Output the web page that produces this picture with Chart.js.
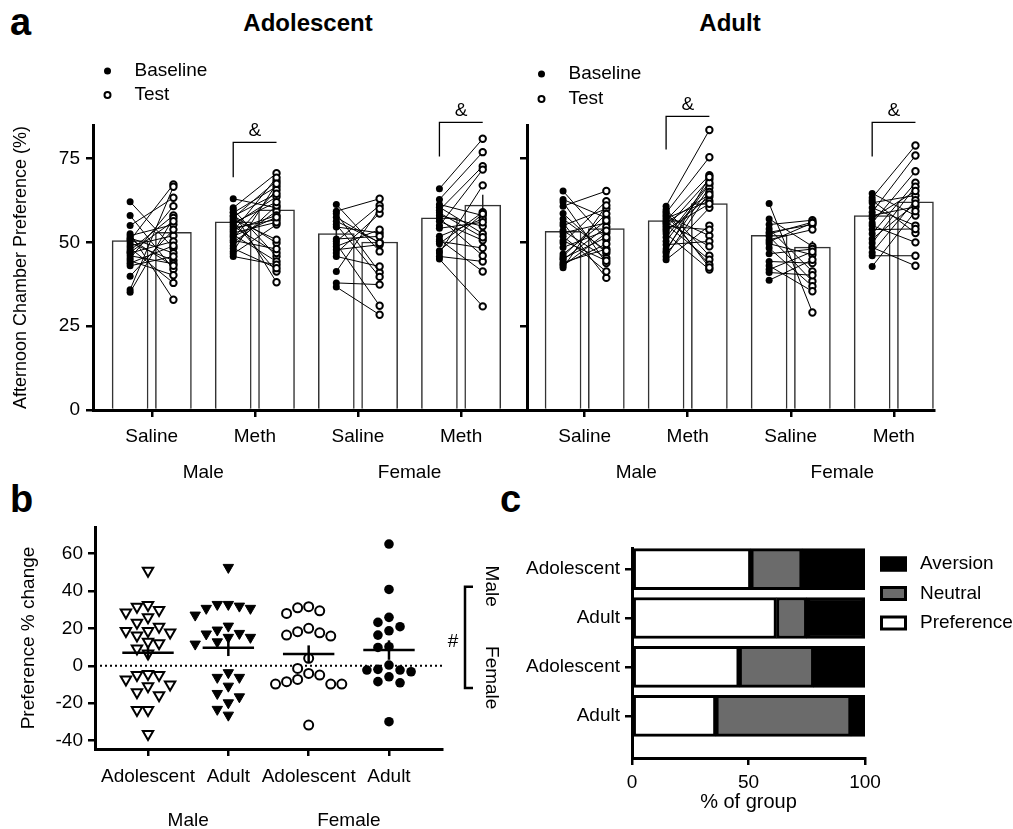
<!DOCTYPE html>
<html>
<head>
<meta charset="utf-8">
<script src="https://cdn.jsdelivr.net/npm/chart.js@4.4.1/dist/chart.umd.min.js"></script>
<style>
  body { margin: 0; background: #fff; }
  #fig { position: relative; width: 1013px; height: 829px; overflow: hidden;
         font-family: "Liberation Sans", Arial, sans-serif; color: #000; }
  canvas { position: absolute; }
  .txt { position: absolute; white-space: nowrap; line-height: 1; font-weight: bold; }
</style>
</head>
<body>
<div id="fig">
  <div class="txt" style="left:10px;top:3px;font-size:38px">a</div>
  <div class="txt" style="left:308px;top:11px;font-size:24px;transform:translateX(-50%)">Adolescent</div>
  <div class="txt" style="left:730px;top:11px;font-size:24px;transform:translateX(-50%)">Adult</div>
  <div class="txt" style="left:10px;top:480px;font-size:38px">b</div>
  <div class="txt" style="left:500px;top:480px;font-size:38px">c</div>
  <canvas id="adol" width="531" height="500" style="left:0;top:0"></canvas>
  <canvas id="adult" width="423" height="500" style="left:517px;top:0"></canvas>
  <canvas id="change" width="450" height="349" style="left:0;top:480px"></canvas>
  <canvas id="groups" width="573" height="349" style="left:440px;top:480px"></canvas>
</div>
<script>
// ---- panel a ----
const treatments = ['Saline', 'Meth', 'Saline', 'Meth'];
const sexes = ['Male', 'Female'];
const aTicks = [0, 25, 50, 75];

// bar heights (group means) and SEM
const adolBaseline = [50.5, 56.1, 52.6, 57.3];
const adolTest = [53.0, 59.7, 50.1, 61.1];
const adultBaseline = [53.3, 56.5, 52.1, 58.0];
const adultTest = [54.1, 61.6, 48.6, 62.1];
const adolBaselineSem = [1.4, 0.9, 1.9, 1.5];
const adolTestSem = [1.9, 1.6, 2.3, 3.1];
const adultBaselineSem = [1.3, 0.9, 1.5, 1.5];
const adultTestSem = [1.5, 2.1, 1.8, 2.2];

// single animals: base[i] is paired with test[i]
const adolMaleSalineBase = [62.1, 58.0, 55.0, 52.6, 52.0, 51.3, 50.6, 49.8, 49.0, 48.3, 47.6, 46.8, 46.0, 45.2, 44.5, 43.8, 43.0, 39.9, 35.9, 35.1, 51.0, 47.0];
const adolMaleSalineTest = [48.3, 42.0, 63.3, 32.9, 55.3, 46.8, 67.3, 44.6, 52.0, 37.9, 58.0, 50.3, 43.6, 60.8, 40.2, 49.0, 45.8, 53.8, 66.6, 57.3, 43.0, 56.3];
const adolMaleMethBase = [63.0, 60.3, 59.8, 58.8, 58.0, 57.3, 56.3, 55.3, 54.3, 53.3, 52.3, 51.3, 50.0, 49.0, 47.3, 46.6, 45.8, 59.0, 57.8, 56.8, 55.8, 54.8, 53.8, 52.8, 51.8, 50.6, 48.2];
const adolMaleMethTest = [60.3, 70.6, 45.8, 66.6, 49.8, 68.3, 41.3, 63.6, 56.8, 69.3, 44.3, 65.6, 59.3, 61.0, 67.5, 55.3, 43.3, 38.1, 64.5, 50.8, 62.0, 46.8, 58.0, 56.0, 57.5, 48.0, 42.3];
const adolFemaleSalineBase = [61.3, 59.3, 58.6, 56.3, 55.3, 54.6, 50.3, 49.6, 48.8, 47.8, 46.8, 45.8, 41.3, 37.9, 36.7, 51.0, 57.5];
const adolFemaleSalineTest = [47.3, 63.0, 41.0, 50.0, 39.7, 52.8, 61.0, 31.1, 53.8, 49.3, 58.6, 42.8, 60.0, 37.4, 28.4, 51.8, 49.8];
const adolFemaleMethBase = [66.0, 62.8, 61.3, 59.6, 58.0, 56.3, 55.0, 51.8, 50.3, 49.6, 46.8, 45.8, 45.0, 60.5, 57.2, 54.2, 50.8, 47.5, 58.8];
const adolFemaleMethTest = [80.9, 76.9, 58.0, 72.7, 54.8, 50.6, 71.7, 57.0, 48.3, 59.0, 67.0, 44.3, 30.9, 52.6, 46.0, 56.0, 41.3, 58.5, 51.5];

const adultMaleSalineBase = [65.3, 62.8, 62.0, 60.8, 58.6, 55.8, 55.0, 52.8, 51.8, 49.8, 45.8, 44.8, 44.0, 43.0, 42.4, 53.5, 50.5, 46.5, 57.0, 48.5, 43.5, 45.2];
const adultMaleSalineTest = [50.8, 57.3, 43.8, 65.3, 46.8, 39.4, 60.0, 55.8, 41.3, 62.3, 58.5, 54.6, 48.0, 52.8, 61.0, 45.3, 44.5, 56.5, 47.5, 53.5, 49.5, 51.5];
const adultMaleMethBase = [60.8, 59.8, 58.8, 57.8, 56.6, 55.3, 54.3, 53.3, 52.6, 50.3, 49.3, 48.0, 46.8, 45.8, 44.8, 58.2, 57.2, 56.0, 55.8, 54.8, 53.8, 51.5, 47.3, 59.2];
const adultMaleMethTest = [83.5, 46.0, 75.4, 52.0, 70.0, 44.8, 68.8, 63.6, 41.9, 67.3, 50.3, 66.3, 60.3, 65.0, 55.0, 43.3, 62.3, 48.8, 64.3, 53.8, 61.5, 67.8, 69.5, 42.5];
const adultFemaleSalineBase = [61.6, 57.0, 55.3, 54.0, 53.0, 51.8, 50.8, 49.6, 48.3, 46.6, 44.3, 43.0, 41.9, 41.0, 38.7, 52.5, 50.2];
const adultFemaleSalineTest = [29.1, 48.8, 56.6, 41.3, 55.3, 38.4, 53.8, 46.3, 36.9, 48.0, 43.8, 35.4, 47.2, 40.2, 44.8, 56.0, 55.8];
const adultFemaleMethBase = [64.6, 63.3, 61.8, 60.3, 59.0, 58.0, 55.8, 55.0, 52.6, 49.8, 47.0, 46.0, 42.8, 62.5, 57.2, 53.8, 51.0, 48.5];
const adultFemaleMethTest = [58.0, 78.9, 64.0, 55.0, 75.9, 60.6, 71.2, 50.0, 67.8, 66.6, 62.6, 46.0, 59.3, 52.8, 65.3, 54.0, 61.5, 43.0];

// ---- panel b ----
const bGroups = ['Adolescent', 'Adult', 'Adolescent', 'Adult'];
const bTicks = [-40, -20, 0, 20, 40, 60];
const maleAdolChange = [50.8, 29.8, 31.6, 32.5, 28.5, 25.9, 23.0, 20.9, 18.6, 18.6, 17.8, 16.2, 12.8, 12.0, 9.3, 6.6, -5.0, -5.0, -4.4, -7.3, -10.9, -10.0, -15.7, -14.2, -23.7, -23.7, -36.5];
const maleAdultChange = [52.6, 32.8, 31.9, 32.8, 30.7, 30.7, 27.1, 21.2, 19.1, 17.3, 15.2, 17.0, 12.8, 15.2, 11.6, -3.7, -6.2, -6.2, -10.9, -14.8, -16.6, -19.8, -23.3, -26.4];
const femaleAdolChange = [31.0, 31.6, 28.0, 29.4, 20.0, 17.6, 15.9, 16.4, 18.2, 4.0, -1.4, -7.3, -5.0, -8.5, -4.1, -9.8, -9.8, -9.8, -31.7];
const femaleAdultChange = [65.1, 40.8, 23.2, 25.9, 18.7, 16.4, 20.9, 10.2, 9.8, 0.4, -2.3, -2.3, -1.9, -3.2, -8.5, -5.9, -9.1, -29.9];
const bMeans = [7.0, 9.6, 6.3, 8.4];
const bSems = [3.6, 4.4, 4.6, 5.2];

// ---- panel c ----
const cRows = ['Adolescent', 'Adult', 'Adolescent', 'Adult'];
const cTicks = [0, 50, 100];
const preference = [51, 62, 46, 36];
const neutral = [22, 13, 32, 58];
const aversion = [27, 25, 22, 6];

Chart.defaults.font.family = '"Liberation Sans", Arial, sans-serif';
Chart.defaults.font.size = 19;
Chart.defaults.color = '#000';
Chart.defaults.animation = false;
Chart.defaults.events = [];
Chart.defaults.plugins.legend.display = false;
Chart.defaults.plugins.tooltip.enabled = false;

const FONT = '19px "Liberation Sans", Arial, sans-serif';
const OFF = 0.21; // baseline / test offset inside a treatment group

function axisStyle() {
  return {
    grid: { display: true, offset: false, drawOnChartArea: false, drawTicks: true, tickLength: 7, lineWidth: 2.5, color: '#000' },
    border: { display: true, width: 3, color: '#000' }
  };
}
function fixTicks(values) {
  return s => { s.ticks = values.map(v => ({ value: v })); };
}

function pairExtras(o) {
  return {
    id: 'pairExtras',
    afterDraw(chart) {
      const { ctx, chartArea, scales: { x, y } } = chart;
      ctx.save();
      ctx.font = FONT;
      ctx.fillStyle = '#000';
      ctx.strokeStyle = '#000';
      // legend
      const lx = chartArea.left + 14.5;
      ctx.beginPath(); ctx.arc(lx, o.legendY[0], 3.5, 0, Math.PI * 2); ctx.fill();
      ctx.lineWidth = 2;
      ctx.beginPath(); ctx.arc(lx, o.legendY[1], 3, 0, Math.PI * 2); ctx.stroke();
      ctx.textBaseline = 'middle';
      ctx.textAlign = 'left';
      ctx.fillText('Baseline', chartArea.left + 41.5, o.legendY[0]);
      ctx.fillText('Test', chartArea.left + 41.5, o.legendY[1]);
      // significance brackets
      ctx.lineWidth = 1.3;
      ctx.textAlign = 'center';
      o.brackets.forEach(b => {
        const x1 = x.getPixelForValue(b.group - OFF), x2 = x.getPixelForValue(b.group + OFF);
        const yt = y.getPixelForValue(b.top), yb = y.getPixelForValue(b.bottom);
        ctx.beginPath(); ctx.moveTo(x1, yb); ctx.lineTo(x1, yt); ctx.lineTo(x2, yt); ctx.stroke();
        ctx.fillText('&', (x1 + x2) / 2, yt - 12);
      });
      // sex labels
      sexes.forEach((s, i) => ctx.fillText(s, x.getPixelForValue(0.5 + 2 * i), chartArea.bottom + 63));
      ctx.restore();
    }
  };
}

function pairPanel(id, o) {
  const groups = [0, 1, 2, 3];
  const datasets = [];
  datasets.push({
    type: 'bar', order: 4,
    data: groups.flatMap(g => [{ x: g - OFF, y: o.base[g] }, { x: g + OFF, y: o.test[g] }]),
    backgroundColor: '#fff', borderColor: '#333', borderWidth: 1.5, barThickness: 36
  });
  groups.forEach(g => {
    [[-OFF, o.base[g], o.baseSem[g]], [OFF, o.test[g], o.testSem[g]]].forEach(([dx, m, s]) => {
      datasets.push({ type: 'line', order: 3, data: [{ x: g + dx, y: m - s }, { x: g + dx, y: m + s }],
        borderColor: '#222', borderWidth: 1.5, pointRadius: 0 });
    });
  });
  o.animals.forEach((a, g) => {
    a.base.forEach((b, i) => {
      datasets.push({ type: 'line', order: 2, data: [{ x: g - OFF, y: b }, { x: g + OFF, y: a.test[i] }],
        borderColor: '#000', borderWidth: 1, pointRadius: 0 });
    });
  });
  datasets.push({ type: 'scatter', order: 1,
    data: o.animals.flatMap((a, g) => a.base.map(v => ({ x: g - OFF, y: v }))),
    pointRadius: 3.5, backgroundColor: '#000', borderWidth: 0 });
  datasets.push({ type: 'scatter', order: 0,
    data: o.animals.flatMap((a, g) => a.test.map(v => ({ x: g + OFF, y: v }))),
    pointRadius: 3.2, backgroundColor: '#fff', borderColor: '#000', borderWidth: 2 });

  return new Chart(document.getElementById(id), {
    type: 'scatter',
    data: { datasets },
    options: {
      responsive: false,
      layout: { padding: { top: 125, right: 4, bottom: 50, left: 0 } },
      scales: {
        x: { type: 'linear', min: o.xmin, max: o.xmax, offset: false,
          afterBuildTicks: fixTicks([0, 1, 2, 3]), afterFit: s => { s.height = 40; },
          ticks: { autoSkip: false, maxRotation: 0, padding: 8, callback: v => treatments[v] },
          ...axisStyle() },
        y: { type: 'linear', min: 0, max: 85,
          afterBuildTicks: fixTicks(aTicks), afterFit: s => { s.width = o.yWidth; },
          ticks: { display: o.yLabels, padding: 6 },
          title: { display: o.yLabels, text: 'Afternoon Chamber Preference (%)', font: { size: 18 }, padding: { top: 10, bottom: 0 } },
          ...axisStyle() }
      }
    },
    plugins: [pairExtras(o)]
  });
}

pairPanel('adol', {
  base: adolBaseline, test: adolTest, baseSem: adolBaselineSem, testSem: adolTestSem,
  animals: [
    { base: adolMaleSalineBase, test: adolMaleSalineTest },
    { base: adolMaleMethBase, test: adolMaleMethTest },
    { base: adolFemaleSalineBase, test: adolFemaleSalineTest },
    { base: adolFemaleMethBase, test: adolFemaleMethTest }
  ],
  xmin: -0.57, xmax: 3.62, yWidth: 93, yLabels: true, legendY: [71, 95],
  brackets: [{ group: 1, top: 79.8, bottom: 69.4 }, { group: 3, top: 85.8, bottom: 75.6 }]
});

pairPanel('adult', {
  base: adultBaseline, test: adultTest, baseSem: adultBaselineSem, testSem: adultTestSem,
  animals: [
    { base: adultMaleSalineBase, test: adultMaleSalineTest },
    { base: adultMaleMethBase, test: adultMaleMethTest },
    { base: adultFemaleSalineBase, test: adultFemaleSalineTest },
    { base: adultFemaleMethBase, test: adultFemaleMethTest }
  ],
  xmin: -0.56, xmax: 3.39, yWidth: 10, yLabels: false, legendY: [74, 99],
  brackets: [{ group: 1, top: 87.6, bottom: 77.7 }, { group: 3, top: 85.8, bottom: 75.6 }]
});

// ---- panel b: scatter of % change ----
const B_XMIN = -0.66, B_XMAX = 3.66;

// simple beeswarm: spread points sideways so markers do not overlap
function swarm(values, center) {
  const pxX = 80, pxY = 1.87, d = 11;
  const placed = [], xs = [];
  values.map((v, i) => i).sort((a, b) => values[b] - values[a]).forEach(i => {
    const py = values[i] * pxY;
    for (let k = 0; k < 40; k++) {
      const off = k === 0 ? 0 : (k % 2 ? -1 : 1) * Math.ceil(k / 2) * d;
      if (placed.every(p => (p.x - off) ** 2 + (p.y - py) ** 2 >= d * d * 0.95)) {
        placed.push({ x: off, y: py });
        xs[i] = center + off / pxX;
        break;
      }
    }
  });
  return values.map((v, i) => ({ x: xs[i], y: v }));
}

const bDatasets = [
  { type: 'line', order: 5, data: [{ x: B_XMIN, y: 0 }, { x: B_XMAX, y: 0 }],
    borderColor: '#000', borderWidth: 2, borderDash: [2, 3], pointRadius: 0 },
  { data: swarm(maleAdolChange, 0), pointStyle: 'triangle', rotation: 180, pointRadius: 6,
    backgroundColor: '#fff', borderColor: '#000', borderWidth: 2, order: 1 },
  { data: swarm(maleAdultChange, 1), pointStyle: 'triangle', rotation: 180, pointRadius: 6,
    backgroundColor: '#000', borderColor: '#000', borderWidth: 1, order: 1 },
  { data: swarm(femaleAdolChange, 2), pointStyle: 'circle', pointRadius: 4.5,
    backgroundColor: '#fff', borderColor: '#000', borderWidth: 2, order: 1 },
  { data: swarm(femaleAdultChange, 3), pointStyle: 'circle', pointRadius: 4.8,
    backgroundColor: '#000', borderColor: '#000', borderWidth: 0, order: 1 }
];
bMeans.forEach((m, i) => {
  bDatasets.push({ type: 'line', order: 0, data: [{ x: i - 0.32, y: m }, { x: i + 0.32, y: m }],
    borderColor: '#000', borderWidth: 2.5, pointRadius: 0 });
  bDatasets.push({ type: 'line', order: 0, data: [{ x: i, y: m - bSems[i] }, { x: i, y: m + bSems[i] }],
    borderColor: '#000', borderWidth: 2.5, pointRadius: 0 });
});

new Chart(document.getElementById('change'), {
  type: 'scatter',
  data: { datasets: bDatasets },
  options: {
    responsive: false,
    layout: { padding: { top: 47, right: 8, bottom: 40, left: 0 } },
    scales: {
      x: { type: 'linear', min: B_XMIN, max: B_XMAX, offset: false,
        afterBuildTicks: fixTicks([0, 1, 2, 3]), afterFit: s => { s.height = 40; },
        ticks: { autoSkip: false, maxRotation: 0, padding: 9, callback: v => bGroups[v] },
        ...axisStyle() },
      y: { type: 'linear', min: -44.5, max: 74.2,
        afterBuildTicks: fixTicks(bTicks), afterFit: s => { s.width = 95; },
        ticks: { padding: 5 },
        title: { display: true, text: 'Preference % change', font: { size: 19 }, padding: { top: 17, bottom: 0 } },
        ...axisStyle() }
    }
  },
  plugins: [{
    id: 'sexLabels',
    afterDraw(chart) {
      const { ctx, chartArea, scales: { x } } = chart;
      ctx.save();
      ctx.font = FONT; ctx.fillStyle = '#000';
      ctx.textAlign = 'center'; ctx.textBaseline = 'middle';
      sexes.forEach((s, i) => ctx.fillText(s, x.getPixelForValue(0.5 + 2 * i), chartArea.bottom + 72));
      ctx.restore();
    }
  }]
});

// ---- panel c: stacked outcome bars ----
const cColors = { Preference: '#fff', Neutral: '#6b6b6b', Aversion: '#000' };
const cSeries = [['Preference', preference], ['Neutral', neutral], ['Aversion', aversion]];

new Chart(document.getElementById('groups'), {
  type: 'bar',
  data: {
    datasets: cSeries.map(([name, vals]) => ({
      label: name,
      data: vals.map((v, i) => ({ x: v, y: i })),
      backgroundColor: cColors[name], borderColor: '#000', borderWidth: 3,
      borderSkipped: false, barThickness: 41
    }))
  },
  options: {
    indexAxis: 'y',
    responsive: false,
    layout: { padding: { top: 68, right: 148, bottom: 31, left: 0 } },
    scales: {
      x: { type: 'linear', stacked: true, min: 0, max: 100,
        afterBuildTicks: fixTicks(cTicks), afterFit: s => { s.height = 40; },
        ticks: { padding: 6 }, ...axisStyle() },
      y: { type: 'linear', stacked: true, reverse: true, min: -0.43, max: 3.86, offset: false,
        afterBuildTicks: fixTicks([0, 1, 2, 3]), afterFit: s => { s.width = 192; },
        ticks: { padding: 5, callback: v => cRows[v] }, ...axisStyle() }
    }
  },
  plugins: [{
    id: 'cExtras',
    afterDraw(chart) {
      const { ctx, chartArea, scales: { y } } = chart;
      ctx.save();
      ctx.font = FONT; ctx.fillStyle = '#000'; ctx.strokeStyle = '#000';
      ctx.textBaseline = 'middle';
      // legend
      ctx.textAlign = 'left';
      ['Aversion', 'Neutral', 'Preference'].forEach((name, i) => {
        const cy = chartArea.top + 16 + i * 29.5;
        const bx = chartArea.right + 15;
        ctx.fillStyle = cColors[name];
        ctx.fillRect(bx, cy - 7.5, 27, 15);
        ctx.lineWidth = 3;
        ctx.strokeRect(bx + 1.5, cy - 6, 24, 12);
        ctx.fillStyle = '#000';
        ctx.fillText(name, chartArea.right + 55, cy);
      });
      // x title
      ctx.textAlign = 'center';
      ctx.font = '20px "Liberation Sans", Arial, sans-serif';
      ctx.fillText('% of group', (chartArea.left + chartArea.right) / 2, chartArea.bottom + 44);
      // sex bracket
      ctx.font = FONT;
      const bx = chartArea.left - 167;
      const yt = y.getPixelForValue(0.36), yb = y.getPixelForValue(2.43);
      ctx.lineWidth = 2.5;
      ctx.beginPath();
      ctx.moveTo(bx + 8, yt); ctx.lineTo(bx, yt); ctx.lineTo(bx, yb); ctx.lineTo(bx + 8, yb);
      ctx.stroke();
      ctx.fillText('#', bx - 12, (yt + yb) / 2 + 4);
      [['Male', 0.35], ['Female', 2.22]].forEach(([s, v]) => {
        ctx.save();
        ctx.translate(chartArea.left - 141, y.getPixelForValue(v));
        ctx.rotate(Math.PI / 2);
        ctx.fillText(s, 0, 0);
        ctx.restore();
      });
      ctx.restore();
    }
  }]
});
</script>
</body>
</html>
